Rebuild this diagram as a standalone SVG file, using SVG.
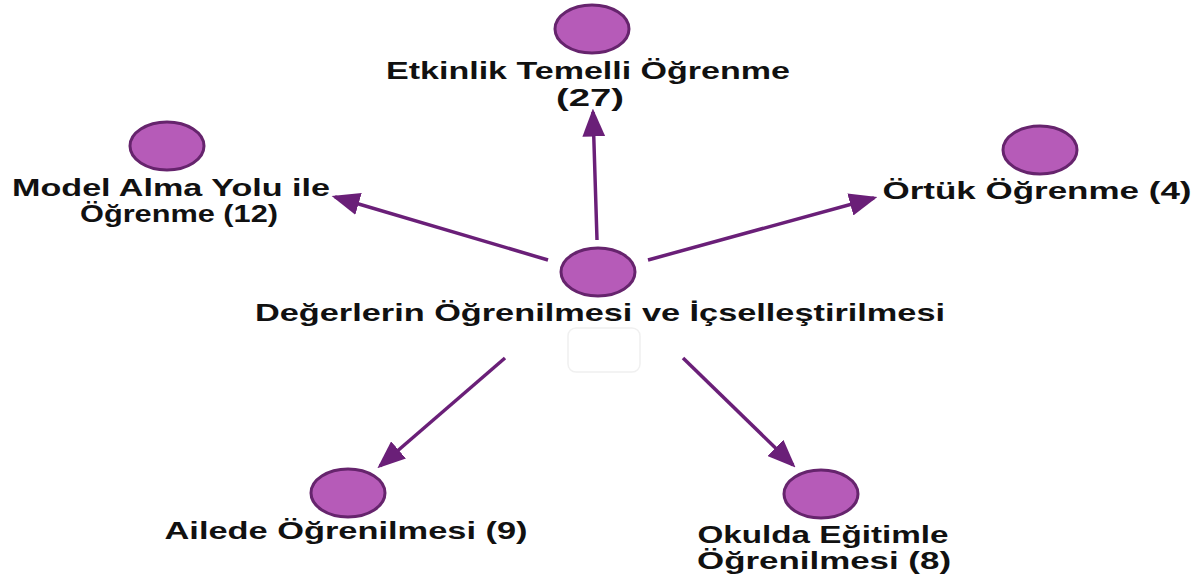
<svg xmlns="http://www.w3.org/2000/svg" width="1198" height="578" viewBox="0 0 1198 578">
<style>
.node{fill:#b65bb8;stroke:#66246d;stroke-width:3}
.lbl{font-family:"Liberation Sans","DejaVu Sans",sans-serif;font-weight:bold;font-size:24px;fill:#111;text-anchor:middle}
.edge{stroke:#6a1f78;stroke-width:3.5;fill:none;marker-end:url(#ah)}
</style>
<defs>
<marker id="ah" markerWidth="8" markerHeight="6.5" refX="7" refY="3.25" orient="auto" markerUnits="strokeWidth">
<path d="M0,0 L8,3.25 L0,6.5 z" fill="#6a1f78"/>
</marker>
</defs>
<rect width="1198" height="578" fill="#fff"/>
<g id="connectors">
<line class="edge" x1="597" y1="240" x2="593" y2="112"/>
<line class="edge" x1="548" y1="260" x2="335" y2="197"/>
<line class="edge" x1="648" y1="260" x2="874" y2="198"/>
<line class="edge" x1="505" y1="358" x2="380" y2="466"/>
<line class="edge" x1="683" y1="358" x2="793" y2="465"/>
</g>
<g id="n-center">
<ellipse class="node" cx="598" cy="272" rx="37" ry="24"/>
<text class="lbl" x="600" y="321" textLength="690" lengthAdjust="spacingAndGlyphs">Değerlerin Öğrenilmesi ve İçselleştirilmesi</text>
<rect x="568" y="328" width="72" height="44" rx="8" fill="none" stroke="#f0f0f0" stroke-width="1.5"/>
</g>
<g id="n-etkinlik">
<ellipse class="node" cx="592" cy="29" rx="37" ry="24"/>
<text class="lbl" x="588" y="79" textLength="404" lengthAdjust="spacingAndGlyphs">Etkinlik Temelli Öğrenme</text>
<text class="lbl" x="590" y="106" textLength="68" lengthAdjust="spacingAndGlyphs">(27)</text>
</g>
<g id="n-model">
<ellipse class="node" cx="167" cy="146" rx="37" ry="24"/>
<text class="lbl" x="171" y="196" textLength="318" lengthAdjust="spacingAndGlyphs">Model Alma Yolu ile</text>
<text class="lbl" x="179" y="222" textLength="198" lengthAdjust="spacingAndGlyphs">Öğrenme (12)</text>
</g>
<g id="n-ortuk">
<ellipse class="node" cx="1040" cy="150" rx="37" ry="24"/>
<text class="lbl" x="1037" y="199" textLength="309" lengthAdjust="spacingAndGlyphs">Örtük Öğrenme (4)</text>
</g>
<g id="n-ailede">
<ellipse class="node" cx="348" cy="493" rx="37" ry="24"/>
<text class="lbl" x="346" y="539" textLength="363" lengthAdjust="spacingAndGlyphs">Ailede Öğrenilmesi (9)</text>
</g>
<g id="n-okulda">
<ellipse class="node" cx="821" cy="494" rx="37" ry="24"/>
<text class="lbl" x="823" y="543" textLength="251" lengthAdjust="spacingAndGlyphs">Okulda Eğitimle</text>
<text class="lbl" x="824" y="569" textLength="254" lengthAdjust="spacingAndGlyphs">Öğrenilmesi (8)</text>
</g>
</svg>
